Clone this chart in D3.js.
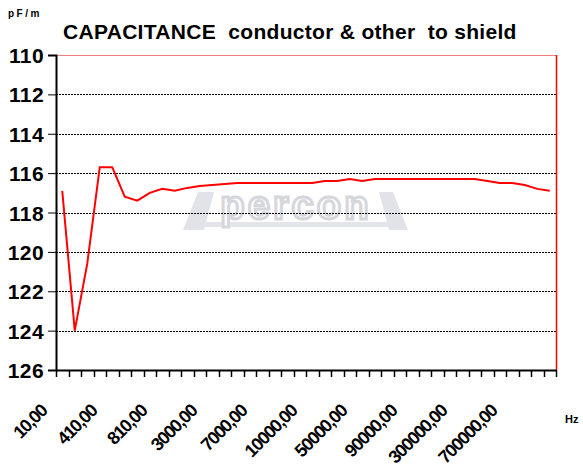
<!DOCTYPE html>
<html>
<head>
<meta charset="utf-8">
<script src="https://cdn.jsdelivr.net/npm/d3@7"></script>
<style>
  body { margin: 0; background: #fff; }
  text { font-family: "Liberation Sans", Arial, sans-serif; font-weight: bold; }
</style>
</head>
<body>
<div id="chart"></div>
<script>
// frequencies (Hz), one per category
var frequencies = [10, 110, 210, 310, 410, 510, 610, 710, 810, 1000,
    1500, 2000, 3000, 4000, 5000, 6000, 7000, 8000, 8500, 9000,
    10000, 20000, 30000, 40000, 50000, 60000, 70000, 80000, 90000, 100000,
    150000, 200000, 300000, 400000, 500000, 600000, 700000, 800000, 900000, 1000000]

// capacitance conductor & other to shield, pF/m
var capacitance = [116.9, 124.0, 120.6, 115.7, 115.7, 117.2, 117.4, 117.0, 116.8, 116.9,
    116.75, 116.65, 116.6, 116.55, 116.5, 116.5, 116.5, 116.5, 116.5, 116.5,
    116.5, 116.4, 116.4, 116.3, 116.4, 116.3, 116.3, 116.3, 116.3, 116.3,
    116.3, 116.3, 116.3, 116.3, 116.4, 116.5, 116.5, 116.6, 116.8, 116.9]

var yTicks = [110, 112, 114, 116, 118, 120, 122, 124, 126]
var labelEvery = 4

var width = 583, height = 474
var margin = {top: 55, right: 27, bottom: 104, left: 56}

var svg = d3.select("#chart")
    .append("svg")
    .attr("width", width)
    .attr("height", height)

var x = d3.scaleBand()
    .domain(frequencies.map((d, i) => i))
    .range([margin.left, width - margin.right])

// the axis runs downwards: 110 at the top, 126 at the bottom
var y = d3.scaleLinear()
    .domain([110, 126])
    .range([margin.top, height - margin.bottom])

var fmt = d3.format(".2f")
function freqLabel(v) { return fmt(v).replace(".", ",") }

// watermark logo
var logo = svg.append("g")
logo.append("path")
    .attr("d", "M183,230 L198,192 L214,192 L204,230 Z M408,230 L393,192 L379,192 L389,230 Z")
    .attr("fill", "#e2e3e8")
logo.append("rect")
    .attr("x", 204).attr("y", 222).attr("width", 185).attr("height", 5)
    .attr("fill", "#e4e5ea")
logo.append("text")
    .attr("x", 296).attr("y", 219)
    .attr("text-anchor", "middle")
    .attr("font-size", 40)
    .attr("fill", "#fff")
    .attr("stroke", "#d6d7dc")
    .attr("stroke-width", 3)
    .attr("letter-spacing", 3)
    .text("percon")

// grid lines
svg.append("g")
    .selectAll("line")
    .data(yTicks.slice(1, -1))
    .enter()
    .append("line")
    .attr("x1", margin.left)
    .attr("x2", width - margin.right)
    .attr("y1", d => Math.round(y(d)) + 0.5)
    .attr("y2", d => Math.round(y(d)) + 0.5)
    .attr("stroke", "#000")
    .attr("stroke-dasharray", "2,1")

// plot border (red)
svg.append("line")
    .attr("x1", margin.left).attr("x2", width - margin.right)
    .attr("y1", margin.top + 0.5).attr("y2", margin.top + 0.5)
    .attr("stroke", "#f08080")
svg.append("line")
    .attr("x1", width - margin.right + 0.5).attr("x2", width - margin.right + 0.5)
    .attr("y1", margin.top).attr("y2", height - margin.bottom)
    .attr("stroke", "#ff0000")
    .attr("stroke-width", 1.5)

// y axis
var yAxis = svg.append("g")
    .attr("transform", "translate(" + margin.left + ",0)")
    .call(d3.axisLeft(y).tickValues(yTicks).tickSize(8).tickPadding(4))
yAxis.select(".domain").attr("stroke", "#000").attr("stroke-width", 2)
yAxis.selectAll(".tick line").attr("stroke", "#000")
yAxis.selectAll(".tick text")
    .attr("font-size", 21)
    .attr("letter-spacing", 0.4)
    .attr("fill", "#000")
    .attr("dy", "0.36em")

// x axis
var xAxis = svg.append("g")
    .attr("transform", "translate(0," + (height - margin.bottom) + ")")
    .call(d3.axisBottom(x).tickSize(0).tickFormat(""))
xAxis.select(".domain").attr("stroke", "#000").attr("stroke-width", 2)

svg.append("g")
    .selectAll("line")
    .data(d3.range(frequencies.length + 1))
    .enter()
    .append("line")
    .attr("x1", i => Math.round(margin.left + i * x.step()) + 0.5)
    .attr("x2", i => Math.round(margin.left + i * x.step()) + 0.5)
    .attr("y1", height - margin.bottom)
    .attr("y2", height - margin.bottom + 7)
    .attr("stroke", "#000")
    .attr("stroke-width", 1.5)

svg.append("g")
    .selectAll("text")
    .data(frequencies.filter((d, i) => i % labelEvery == 0))
    .enter()
    .append("text")
    .attr("transform", (d, i) => {
        var cx = x(i * labelEvery) + x.bandwidth() / 2 - 14
        return "translate(" + cx + "," + (height - margin.bottom + 42) + ") rotate(-45)"
    })
    .attr("text-anchor", "end")
    .attr("font-size", 18)
    .attr("letter-spacing", -1.2)
    .text(freqLabel)

// the curve
var line = d3.line()
    .x((d, i) => x(i) + x.bandwidth() / 2)
    .y(d => y(d))

svg.append("path")
    .datum(capacitance)
    .attr("d", line)
    .attr("fill", "none")
    .attr("stroke", "#ff0000")
    .attr("stroke-width", 2)

// titles
svg.append("text")
    .attr("x", 63).attr("y", 39)
    .attr("font-size", 21)
    .attr("letter-spacing", 0.3)
    .style("white-space", "pre")
    .text("CAPACITANCE  conductor & other  to shield")

svg.append("text")
    .attr("x", 8).attr("y", 17)
    .attr("font-size", 10)
    .attr("letter-spacing", 2.5)
    .text("pF/m")

svg.append("text")
    .attr("x", 565).attr("y", 423)
    .attr("font-size", 11)
    .text("Hz")
</script>
</body>
</html>
